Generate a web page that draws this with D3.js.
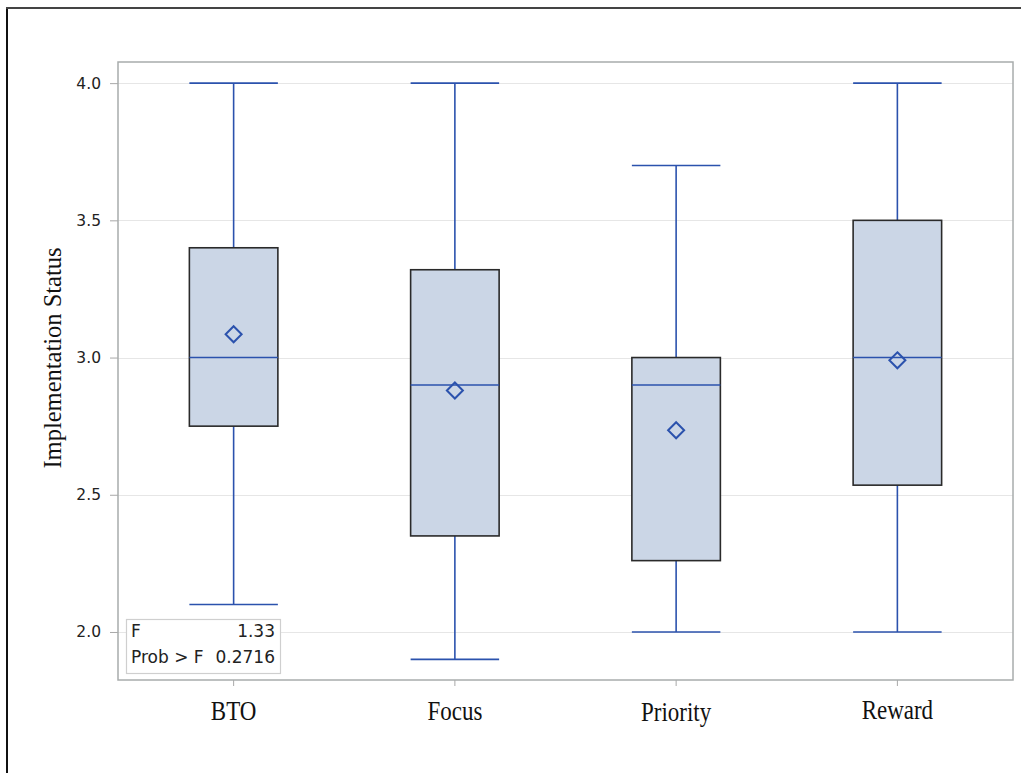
<!DOCTYPE html>
<html>
<head>
<meta charset="utf-8">
<script src="https://cdn.jsdelivr.net/npm/d3@7"></script>
<style>
  html, body { margin: 0; padding: 0; background: #fff; }
  svg { display: block; }
</style>
</head>
<body>
<svg id="chart" width="1021" height="773"></svg>
<script>
// Box-plot summaries per group
const categories = ["BTO", "Focus", "Priority", "Reward"];
const mins    = [2.10, 1.90, 2.00, 2.00];
const q1s     = [2.75, 2.35, 2.26, 2.535];
const medians = [3.00, 2.90, 2.90, 3.00];
const q3s     = [3.40, 3.32, 3.00, 3.50];
const maxs    = [4.00, 4.00, 3.70, 4.00];
const means   = [3.085, 2.88, 2.735, 2.99];

const yTicks = [2.0, 2.5, 3.0, 3.5, 4.0];
const statLabels = ["F", "Prob > F"];
const statValues = ["1.33", "0.2716"];

const rows = categories.map((c, i) => ({
  cat: c, min: mins[i], q1: q1s[i], med: medians[i], q3: q3s[i], max: maxs[i], mean: means[i]
}));

const svg = d3.select("#chart");

// outer frame (left and top edges)
svg.append("line").attr("x1", 7).attr("x2", 7).attr("y1", 7).attr("y2", 773)
  .attr("stroke", "#111").attr("stroke-width", 2);
svg.append("line").attr("x1", 6).attr("x2", 1021).attr("y1", 8).attr("y2", 8)
  .attr("stroke", "#444").attr("stroke-width", 2);

const plot = { left: 118, right: 1013, top: 62, bottom: 680 };

const y = d3.scaleLinear()
  .domain([1.825, 4.077])
  .range([plot.bottom, plot.top]);

const x = d3.scaleBand()
  .domain(categories)
  .range([plot.left + 5, plot.right - 5])
  .paddingInner(0.6)
  .paddingOuter(0.3);

// gridlines
svg.append("g")
  .selectAll("line")
  .data(yTicks)
  .join("line")
  .attr("x1", plot.left).attr("x2", plot.right)
  .attr("y1", d => Math.round(y(d)) + 0.5).attr("y2", d => Math.round(y(d)) + 0.5)
  .attr("stroke", "#e6e6e6").attr("stroke-width", 1.2);

// y axis
const yAxis = d3.axisLeft(y).tickValues(yTicks).tickFormat(d3.format(".1f")).tickSizeOuter(0).tickSize(8).tickPadding(9);
const gy = svg.append("g").attr("transform", `translate(${plot.left},0)`).call(yAxis);
gy.select(".domain").remove();
gy.selectAll(".tick line").attr("stroke", "#a8a8a8");
gy.selectAll(".tick text")
  .attr("font-family", "DejaVu Sans, sans-serif")
  .attr("font-size", 15.5)
  .attr("fill", "#222");

// x axis (ticks only; labels placed below)
const xAxis = d3.axisBottom(x).tickSize(6).tickSizeOuter(0).tickFormat("");
const gx = svg.append("g").attr("transform", `translate(0,${plot.bottom})`).call(xAxis);
gx.select(".domain").remove();
gx.selectAll(".tick line").attr("stroke", "#a8a8a8");

const labelBase = [720, 720, 721, 719];
svg.append("g")
  .selectAll("text")
  .data(categories)
  .join("text")
  .attr("transform", (d, i) => `translate(${x(d) + x.bandwidth() / 2},${labelBase[i]}) scale(1,1.15)`)
  .attr("text-anchor", "middle")
  .attr("font-family", "Liberation Serif, Times New Roman, serif")
  .attr("font-size", 23)
  .attr("fill", "#111")
  .text(d => d);

// plot frame
svg.append("rect")
  .attr("x", plot.left).attr("y", plot.top)
  .attr("width", plot.right - plot.left).attr("height", plot.bottom - plot.top)
  .attr("fill", "none").attr("stroke", "#a8acac").attr("stroke-width", 1.5);

// y label
svg.append("text")
  .attr("transform", `translate(61,358) rotate(-90)`)
  .attr("text-anchor", "middle")
  .attr("font-family", "Liberation Serif, Times New Roman, serif")
  .attr("font-size", 24.5)
  .attr("fill", "#111")
  .text("Implementation Status");

// boxes
const blue = "#2b52ad";
const bw = x.bandwidth();
const g = svg.append("g");
const box = g.selectAll("g.box").data(rows).join("g").attr("class", "box");

// whiskers
box.append("line")
  .attr("x1", d => x(d.cat) + bw / 2).attr("x2", d => x(d.cat) + bw / 2)
  .attr("y1", d => y(d.max)).attr("y2", d => y(d.q3))
  .attr("stroke", blue).attr("stroke-width", 1.6);
box.append("line")
  .attr("x1", d => x(d.cat) + bw / 2).attr("x2", d => x(d.cat) + bw / 2)
  .attr("y1", d => y(d.q1)).attr("y2", d => y(d.min))
  .attr("stroke", blue).attr("stroke-width", 1.6);
// caps
["max", "min"].forEach(k => {
  box.append("line")
    .attr("x1", d => x(d.cat)).attr("x2", d => x(d.cat) + bw)
    .attr("y1", d => y(d[k])).attr("y2", d => y(d[k]))
    .attr("stroke", blue).attr("stroke-width", 1.6);
});
// box body
box.append("rect")
  .attr("x", d => x(d.cat)).attr("width", bw)
  .attr("y", d => y(d.q3)).attr("height", d => y(d.q1) - y(d.q3))
  .attr("fill", "#cbd6e6").attr("stroke", "#2a2a2a").attr("stroke-width", 1.6);
// median
box.append("line")
  .attr("x1", d => x(d.cat)).attr("x2", d => x(d.cat) + bw)
  .attr("y1", d => y(d.med)).attr("y2", d => y(d.med))
  .attr("stroke", blue).attr("stroke-width", 1.6);
// mean marker
box.append("path")
  .attr("transform", d => `translate(${x(d.cat) + bw / 2},${y(d.mean)})`)
  .attr("d", "M0,-8L8,0L0,8L-8,0Z")
  .attr("fill", "none").attr("stroke", blue).attr("stroke-width", 2);

// statistics inset
const inset = svg.append("g");
inset.append("rect")
  .attr("x", 126.5).attr("y", 619.5).attr("width", 154).attr("height", 54)
  .attr("fill", "#fff").attr("stroke", "#cfcfcf").attr("stroke-width", 1.2);
statLabels.forEach((t, i) => {
  inset.append("text")
    .attr("x", 131).attr("y", 637 + i * 26)
    .attr("font-family", "DejaVu Sans, sans-serif")
    .attr("font-size", 17).attr("fill", "#222")
    .text(t);
  inset.append("text")
    .attr("x", 275).attr("y", 637 + i * 26)
    .attr("text-anchor", "end")
    .attr("font-family", "DejaVu Sans, sans-serif")
    .attr("font-size", 17).attr("fill", "#222")
    .text(statValues[i]);
});
</script>
</body>
</html>
